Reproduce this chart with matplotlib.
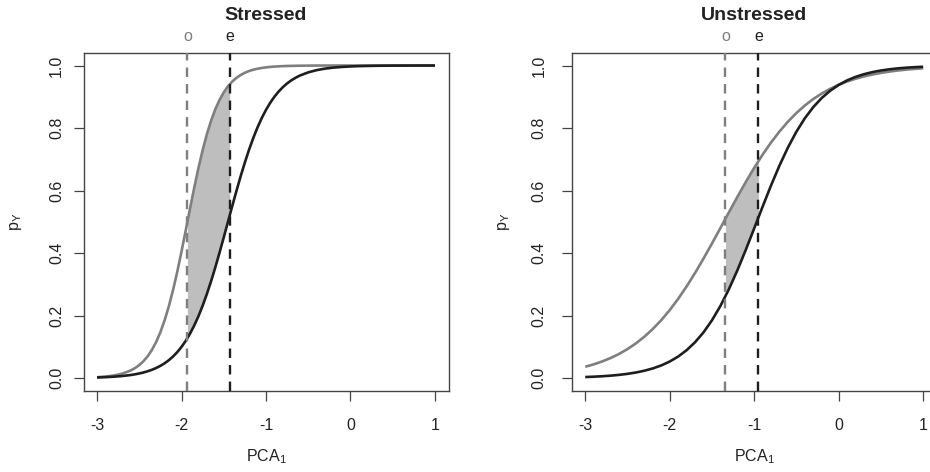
import numpy as np
import matplotlib
matplotlib.use("Agg")
import matplotlib.pyplot as plt

# ---------------- data ----------------
# Stressed panel: finer sampling through the steep part of the curves
stressed_x = [-3.0, -2.9, -2.8, -2.7, -2.6, -2.55, -2.5, -2.45, -2.4, -2.35, -2.3, -2.25,
              -2.2, -2.15, -2.1, -2.05, -2.0, -1.95, -1.9, -1.85, -1.8, -1.75, -1.7, -1.65,
              -1.6, -1.55, -1.5, -1.45, -1.4, -1.35, -1.3, -1.25, -1.2, -1.15, -1.1, -1.05,
              -1.0, -0.95, -0.9, -0.85, -0.8, -0.75, -0.7, -0.65, -0.6, -0.5, -0.4, -0.3,
              -0.2, -0.1, 0.0, 0.1, 0.2, 0.3, 0.4, 0.5, 0.6, 0.7, 0.8, 0.9, 1.0]
stressed_o = [0.0028, 0.0048, 0.0083, 0.0143, 0.0245, 0.0320, 0.0417, 0.0542, 0.0701, 0.0903, 0.1156, 0.1468,
              0.1847, 0.2297, 0.2819, 0.3407, 0.4049, 0.4725, 0.5412, 0.6083, 0.6715, 0.7291, 0.7799, 0.8234,
              0.8600, 0.8899, 0.9141, 0.9334, 0.9486, 0.9604, 0.9697, 0.9768, 0.9823, 0.9865, 0.9897, 0.9922,
              0.9940, 0.9955, 0.9965, 0.9974, 0.9980, 0.9985, 0.9988, 0.9991, 0.9993, 0.9996, 0.9998, 0.9999,
              0.9999, 1.0000, 1.0000, 1.0000, 1.0000, 1.0000, 1.0000, 1.0000, 1.0000, 1.0000, 1.0000, 1.0000, 1.0000]
stressed_e = [0.0020, 0.0030, 0.0045, 0.0067, 0.0099, 0.0121, 0.0148, 0.0180, 0.0219, 0.0266, 0.0323, 0.0392,
              0.0474, 0.0573, 0.0691, 0.0832, 0.0998, 0.1192, 0.1419, 0.1680, 0.1978, 0.2315, 0.2689, 0.3100,
              0.3543, 0.4013, 0.4502, 0.5000, 0.5498, 0.5987, 0.6457, 0.6900, 0.7311, 0.7685, 0.8022, 0.8320,
              0.8581, 0.8808, 0.9002, 0.9168, 0.9309, 0.9427, 0.9526, 0.9608, 0.9677, 0.9781, 0.9852, 0.9901,
              0.9933, 0.9955, 0.9970, 0.9980, 0.9986, 0.9991, 0.9994, 0.9996, 0.9997, 0.9998, 0.9999, 0.9999, 0.9999]

unstressed_x = [-3.0, -2.9, -2.8, -2.7, -2.6, -2.5, -2.4, -2.3, -2.2, -2.1, -2.0,
                -1.9, -1.8, -1.7, -1.6, -1.5, -1.4, -1.3, -1.2, -1.1, -1.0,
                -0.9, -0.8, -0.7, -0.6, -0.5, -0.4, -0.3, -0.2, -0.1, 0.0,
                0.1, 0.2, 0.3, 0.4, 0.5, 0.6, 0.7, 0.8, 0.9, 1.0]
unstressed_o = [0.0363, 0.0439, 0.0532, 0.0642, 0.0773, 0.0928, 0.1111, 0.1324, 0.1571, 0.1854, 0.2175,
                0.2535, 0.2932, 0.3363, 0.3823, 0.4305, 0.4800, 0.5300, 0.5793, 0.6271, 0.6726,
                0.7150, 0.7540, 0.7892, 0.8205, 0.8481, 0.8721, 0.8929, 0.9105, 0.9255, 0.9382,
                0.9488, 0.9577, 0.9651, 0.9712, 0.9763, 0.9806, 0.9840, 0.9869, 0.9892, 0.9912]
unstressed_e = [0.0034, 0.0045, 0.0059, 0.0078, 0.0103, 0.0136, 0.0179, 0.0236, 0.0309, 0.0405, 0.0530,
                0.0689, 0.0892, 0.1147, 0.1463, 0.1848, 0.2308, 0.2841, 0.3443, 0.4100, 0.4790,
                0.5488, 0.6168, 0.6805, 0.7381, 0.7885, 0.8315, 0.8672, 0.8962, 0.9195, 0.9380,
                0.9524, 0.9636, 0.9722, 0.9789, 0.9840, 0.9878, 0.9908, 0.9930, 0.9947, 0.9960]

# vertical reference lines (o = observed, e = expected)
stressed_lines = {"o": -1.93, "e": -1.43}
unstressed_lines = {"o": -1.34, "e": -0.95}

# shaded band between the curves, from o to e
shade_s_x = [-1.93, -1.9, -1.85, -1.8, -1.75, -1.7, -1.65, -1.6, -1.55, -1.5, -1.45, -1.43]
shade_s_up = [0.5000, 0.5412, 0.6083, 0.6715, 0.7291, 0.7799, 0.8234, 0.8600, 0.8899, 0.9141, 0.9334, 0.9399]
shade_s_lo = [0.1279, 0.1419, 0.1680, 0.1978, 0.2315, 0.2689, 0.3100, 0.3543, 0.4013, 0.4502, 0.5000, 0.5200]
shade_u_x = [-1.34, -1.3, -1.2, -1.1, -1.0, -0.95]
shade_u_up = [0.5100, 0.5300, 0.5793, 0.6271, 0.6726, 0.6942]
shade_u_lo = [0.2619, 0.2841, 0.3443, 0.4100, 0.4790, 0.5140]

titles = ["Stressed", "Unstressed"]
xticks = [-3, -2, -1, 0, 1]
yticks = [0.0, 0.2, 0.4, 0.6, 0.8, 1.0]

# ---------------- style ----------------
plt.rcParams["font.family"] = ["Liberation Sans", "DejaVu Sans"]
plt.rcParams["mathtext.fontset"] = "custom"
plt.rcParams["mathtext.rm"] = "Liberation Sans"
plt.rcParams["mathtext.it"] = "Liberation Sans"

GRAY = "#7f7f7f"
DARK = "#1e1e1e"
FILL = "#bebebe"
BOX = "#444444"
TXT = "#222222"

W, H = 930, 472
fig = plt.figure(figsize=(W / 100, H / 100), dpi=100)

panels = [
    dict(left=83.5, title=titles[0], x=stressed_x, yo=stressed_o, ye=stressed_e, lines=stressed_lines,
         sx=shade_s_x, sup=shade_s_up, slo=shade_s_lo, ypad=7),
    dict(left=571.7, title=titles[1], x=unstressed_x, yo=unstressed_o, ye=unstressed_e, lines=unstressed_lines,
         sx=shade_u_x, sup=shade_u_up, slo=shade_u_lo, ypad=11),
]

ax_w = 365.0
ax_top = 53.0
ax_bot = 390.6

for p in panels:
    ax = fig.add_axes([p["left"] / W, (H - ax_bot) / H, ax_w / W, (ax_bot - ax_top) / H])
    ax.set_xlim(-3.16, 1.16)
    ax.set_ylim(-0.04, 1.04)

    ax.fill_between(p["sx"], p["slo"], p["sup"], color=FILL, linewidth=0, zorder=1)
    ax.plot(p["x"], p["yo"], color=GRAY, lw=1.9, zorder=3, solid_capstyle="butt")
    ax.plot(p["x"], p["ye"], color=DARK, lw=1.9, zorder=3, solid_capstyle="butt")
    ax.axvline(p["lines"]["o"], color=GRAY, lw=1.7, ls=(0, (4, 3)), zorder=4)
    ax.axvline(p["lines"]["e"], color=DARK, lw=1.7, ls=(0, (4, 3)), zorder=4)

    for s in ax.spines.values():
        s.set_color(BOX)
        s.set_linewidth(1.0)

    ax.set_xticks(xticks)
    ax.set_xticklabels([str(t) for t in xticks])
    ax.set_yticks(yticks)
    ax.set_yticklabels([f"{t:.1f}" for t in yticks], rotation=90, va="center")
    ax.tick_params(axis="both", direction="out", length=7, width=0.9, color=BOX,
                   labelsize=11.5, labelcolor=TXT)
    ax.tick_params(axis="x", pad=13)
    ax.tick_params(axis="y", pad=p["ypad"])

    ax.set_xlabel(r"PCA$_\mathregular{1}$", fontsize=11.5, color=TXT, labelpad=10)
    ax.set_ylabel(r"p$_\mathregular{Y}$", fontsize=11.5, color=TXT, labelpad=18 - (p["ypad"] - 7))
    ax.set_title(p["title"], fontsize=14, fontweight="bold", color=TXT, pad=24)

    for key, col in (("o", GRAY), ("e", TXT)):
        ax.annotate(key, xy=(p["lines"][key], 1.0), xycoords=ax.get_xaxis_transform(),
                    xytext=(0, 12), textcoords="offset points", ha="center", va="center",
                    fontsize=11.5, color=col)

fig.savefig("out.png", dpi=100)
